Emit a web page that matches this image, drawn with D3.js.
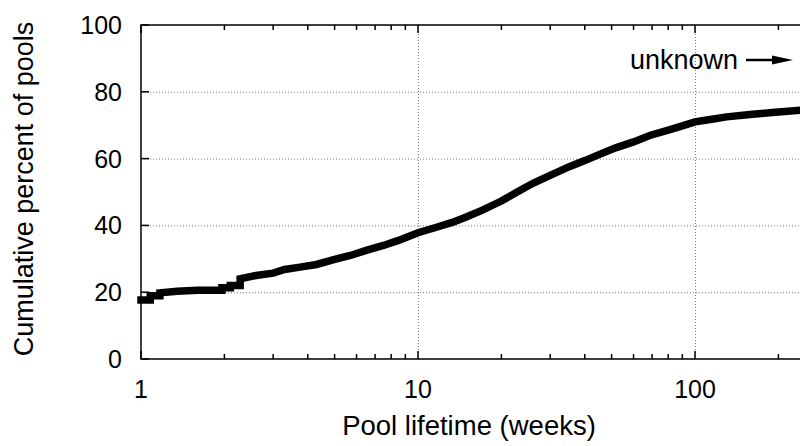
<!DOCTYPE html>
<html><head><meta charset="utf-8">
<script src="https://cdn.jsdelivr.net/npm/d3@7"></script>
<style>body{margin:0;background:#fff}svg{display:block}text{font-family:"Liberation Sans",Arial,sans-serif;fill:#000}</style>
</head><body>
<svg id="c" width="800" height="446"></svg>
<script>
const weeks = [1, 1.08, 1.08, 1.17, 1.17, 1.35, 1.6, 1.96, 1.96, 2.1, 2.1, 2.28, 2.28, 2.6, 3.0, 3.3, 3.75, 4.3, 5.0, 5.7, 6.5, 7.5, 8.5, 10, 11.5, 13.3, 15, 17, 20, 22.8, 26, 30, 35, 40, 45, 52, 60, 69, 79, 90, 100, 115, 130, 158, 190, 240];
const percent = [17.7, 17.7, 18.9, 18.9, 19.8, 20.3, 20.6, 20.6, 21.3, 21.3, 22, 22, 24, 25, 25.7, 26.8, 27.5, 28.3, 29.8, 31, 32.5, 34, 35.5, 37.8, 39.3, 40.9, 42.6, 44.5, 47.3, 50, 52.6, 55, 57.5, 59.4, 61.2, 63.3, 65, 67, 68.4, 69.8, 71, 71.8, 72.5, 73.2, 73.8, 74.5];
const yTicks = [0, 20, 40, 60, 80, 100];
const xTicks = [1, 10, 100];
const xMinor = [2,3,4,5,6,7,8,9,20,30,40,50,60,70,80,90,200];

const svg = d3.select("#c");
const L = 141, T = 25, B = 359, dec = 277;
const x = d3.scaleLog().domain([1, 250]).range([L, L + dec * Math.log10(250)]);
const y = d3.scaleLinear().domain([0, 100]).range([B, T]);
const R = 800;

// grid
const g = svg.append("g").attr("stroke", "#777").attr("stroke-width", 1).attr("stroke-dasharray", "1,2");
yTicks.filter(v => v > 0 && v < 100).forEach(v => g.append("line").attr("x1", L).attr("x2", R).attr("y1", y(v)+0.5).attr("y2", y(v)+0.5));
xTicks.filter(v => v > 1).forEach(v => g.append("line").attr("x1", Math.round(x(v))+0.5).attr("x2", Math.round(x(v))+0.5).attr("y1", T).attr("y2", B));

// axes frame
const ax = svg.append("g").attr("stroke", "#000").attr("stroke-width", 1.5).attr("fill", "none");
ax.append("path").attr("d", `M${R+2},${T}H${L}V${B}H${R+2}`);
yTicks.forEach(v => ax.append("line").attr("x1", L).attr("x2", L + 8).attr("y1", y(v)).attr("y2", y(v)));
xTicks.forEach(v => {
  ax.append("line").attr("x1", x(v)).attr("x2", x(v)).attr("y1", B).attr("y2", B - 8);
  ax.append("line").attr("x1", x(v)).attr("x2", x(v)).attr("y1", T).attr("y2", T + 8);
});
xMinor.forEach(v => {
  ax.append("line").attr("x1", x(v)).attr("x2", x(v)).attr("y1", B).attr("y2", B - 5);
  ax.append("line").attr("x1", x(v)).attr("x2", x(v)).attr("y1", T).attr("y2", T + 5);
});

// labels
yTicks.forEach(v => svg.append("text").attr("x", 122).attr("y", y(v) + 9).attr("text-anchor", "end").attr("font-size", 25).text(v));
xTicks.forEach(v => svg.append("text").attr("x", x(v)).attr("y", 398).attr("text-anchor", "middle").attr("font-size", 25).text(v));
svg.append("text").attr("x", 469).attr("y", 435).attr("text-anchor", "middle").attr("font-size", 27.5).text("Pool lifetime (weeks)");
svg.append("text").attr("transform", "translate(33,189) rotate(-90)").attr("text-anchor", "middle").attr("font-size", 27).text("Cumulative percent of pools");

// curve
const data = weeks.map((w, i) => [w, percent[i]]);
svg.append("path").datum(data)
  .attr("d", d3.line().x(d => x(d[0])).y(d => y(d[1])))
  .attr("fill", "none").attr("stroke", "#000").attr("stroke-width", 7.5).attr("stroke-linejoin", "miter").attr("stroke-linecap", "square");

// annotation
svg.append("text").attr("x", 738).attr("y", 69).attr("text-anchor", "end").attr("font-size", 27).text("unknown");
svg.append("line").attr("x1", 746).attr("x2", 778).attr("y1", 60).attr("y2", 60).attr("stroke", "#000").attr("stroke-width", 2.5);
svg.append("path").attr("d", "M772,55.5L793,60L772,64.5Z").attr("fill", "#000");
</script>
</body></html>
